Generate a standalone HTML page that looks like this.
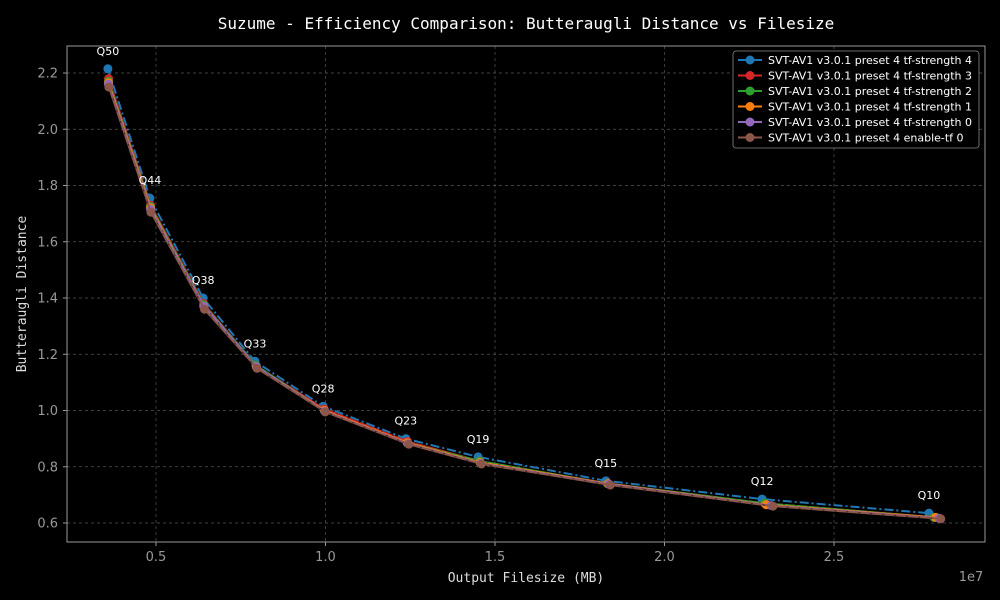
<!DOCTYPE html>
<html><head><meta charset="utf-8"><style>
body{margin:0;background:#000;}
svg{display:block;font-family:"DejaVu Sans Mono","Liberation Mono",monospace;}
.s{font-family:"DejaVu Sans","Liberation Sans",sans-serif;}
</style></head><body>
<svg id="c" width="1000" height="600" xmlns="http://www.w3.org/2000/svg">
<rect width="1000" height="600" fill="#000"/>
<text x="526" y="29" fill="#fff" font-size="16" text-anchor="middle">Suzume - Efficiency Comparison: Butteraugli Distance vs Filesize</text>
<g id="grid"></g>
<rect x="67" y="46" width="918" height="496" fill="none" stroke="#999" stroke-width="1"/>
<g id="ticks"></g>
<g id="series"></g>
<g id="labels"></g>
<text x="526" y="582" fill="#ddd" font-size="13" text-anchor="middle">Output Filesize (MB)</text>
<text x="971" y="581" fill="#999" font-size="13" class="s" text-anchor="middle">1e7</text>
<text transform="translate(26,294) rotate(-90)" fill="#ddd" font-size="13" text-anchor="middle">Butteraugli Distance</text>
<g id="legend"></g>
</svg>
<script>
const qualities=["Q50","Q44","Q38","Q33","Q28","Q23","Q19","Q15","Q12","Q10"];
const seriesNames=["SVT-AV1 v3.0.1 preset 4 tf-strength 4","SVT-AV1 v3.0.1 preset 4 tf-strength 3","SVT-AV1 v3.0.1 preset 4 tf-strength 2","SVT-AV1 v3.0.1 preset 4 tf-strength 1","SVT-AV1 v3.0.1 preset 4 tf-strength 0","SVT-AV1 v3.0.1 preset 4 enable-tf 0"];
const colors=["#1f77b4","#d62728","#2ca02c","#ff7f0e","#9467bd","#8c564b"];
const xS4=[0.358,0.482,0.639,0.792,0.993,1.237,1.45,1.827,2.288,2.78];
const yS4=[2.215,1.755,1.40,1.175,1.015,0.90,0.835,0.75,0.685,0.635];
const xS3=[0.360,0.484,0.641,0.795,0.996,1.241,1.455,1.832,2.296,2.795];
const yS3=[2.18,1.73,1.38,1.16,1.005,0.89,0.82,0.74,0.67,0.62];
const xS2=[0.360,0.484,0.641,0.795,0.996,1.241,1.455,1.832,2.296,2.795];
const yS2=[2.17,1.725,1.375,1.16,1.0,0.885,0.82,0.74,0.67,0.62];
const xS1=[0.360,0.484,0.641,0.796,0.997,1.242,1.456,1.834,2.30,2.80];
const yS1=[2.165,1.72,1.37,1.155,1.0,0.885,0.815,0.74,0.665,0.62];
const xS0=[0.360,0.484,0.642,0.797,0.998,1.244,1.458,1.836,2.315,2.81];
const yS0=[2.16,1.715,1.37,1.155,0.997,0.882,0.812,0.738,0.662,0.617];
const xTf0=[0.361,0.485,0.643,0.798,0.999,1.246,1.46,1.84,2.32,2.815];
const yTf0=[2.15,1.705,1.36,1.15,0.995,0.88,0.81,0.735,0.66,0.615];
const xTicks=[0.5,1.0,1.5,2.0,2.5];
const yTicks=[0.6,0.8,1.0,1.2,1.4,1.6,1.8,2.0,2.2];
const allX=[xS4,xS3,xS2,xS1,xS0,xTf0], allY=[yS4,yS3,yS2,yS1,yS0,yTf0];
const NS="http://www.w3.org/2000/svg";
const X=v=>-13.5+v*339, Y=v=>523-(v-0.6)*281.25;
function mk(t,a,p){const e=document.createElementNS(NS,t);for(const k in a)e.setAttribute(k,a[k]);p.appendChild(e);return e;}
const grid=document.getElementById('grid'),ticks=document.getElementById('ticks');
xTicks.forEach(v=>{
 const l=mk('line',{x1:X(v),x2:X(v),y1:46,y2:542,stroke:'#555','stroke-dasharray':'3,3','stroke-width':0.7},grid);
 
 
 mk('line',{x1:X(v),x2:X(v),y1:542,y2:546,stroke:'#999'},ticks);
 const t=mk('text',{x:X(v),y:561,fill:'#999','font-size':13,'text-anchor':'middle',class:'s'},ticks);t.textContent=v.toFixed(1);
 
 
});
yTicks.forEach(v=>{
 const l=mk('line',{x1:67,x2:985,y1:Y(v),y2:Y(v),stroke:'#555','stroke-dasharray':'3,3','stroke-width':0.7},grid);
 
 
 mk('line',{x1:63,x2:67,y1:Y(v),y2:Y(v),stroke:'#999'},ticks);
 const t=mk('text',{x:58,y:Y(v)+4.5,fill:'#999','font-size':13,'text-anchor':'end',class:'s'},ticks);t.textContent=v.toFixed(1);
 
 
});
const sg=document.getElementById('series');
for(let s=0;s<6;s++){
 const g=mk('g',{},sg);
 
 
 const pts=allX[s].map((x,i)=>X(x)+','+Y(allY[s][i])).join(' ');
 mk('polyline',{points:pts,fill:'none',stroke:colors[s],'stroke-width':2,'stroke-dasharray':s===0?'9,3,2,3':'none'},g);
 if(s>0) mk('polyline',{points:pts,fill:'none',stroke:'#000','stroke-width':1,'stroke-dasharray':'2,10','stroke-opacity':0.6},g);
 allX[s].forEach((x,i)=>{
  const c=mk('circle',{cx:X(x),cy:Y(allY[s][i]),r:4.5,fill:colors[s]},g);
  
  
 });
}
const lg=document.getElementById('labels');
qualities.forEach((q,i)=>{
 const t=mk('text',{x:X(xS4[i]),y:Y(yS4[i])-14,fill:'#fff','font-size':11,'text-anchor':'middle',class:'s'},lg);t.textContent=q;
 
 
});
const leg=document.getElementById('legend');
mk('rect',{x:733,y:51,width:246,height:97,rx:3,fill:'#000',stroke:'#888','stroke-width':0.8},leg);
seriesNames.forEach((n,i)=>{
 const y=60+i*15.5;
 const e=mk('g',{},leg);
 
 
 mk('line',{x1:738,x2:762,y1:y,y2:y,stroke:colors[i],'stroke-width':2},e);
 mk('circle',{cx:750,cy:y,r:4.5,fill:colors[i]},e);
 const t=mk('text',{x:768,y:y+4,fill:'#fff','font-size':11,class:'s'},e);t.textContent=n;
});
</script>
</body></html>
